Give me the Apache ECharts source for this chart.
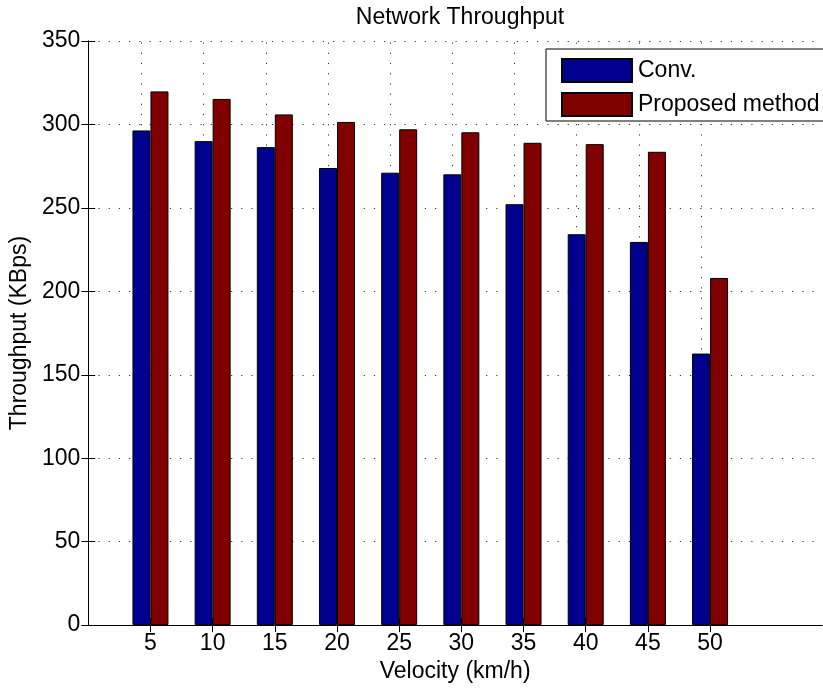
<!DOCTYPE html>
<html>
<head>
<meta charset="utf-8">
<script src="https://cdn.jsdelivr.net/npm/echarts@6/dist/echarts.min.js"></script>
<style>html,body{margin:0;padding:0;background:#fff}#c{width:823px;height:688px}</style>
</head>
<body>
<div id="c"></div>
<script>
var velocities = [5, 10, 15, 20, 25, 30, 35, 40, 45, 50];
var convValues = [296.4, 290, 286.4, 273.9, 271.1, 270.1, 252.2, 234.2, 229.6, 162.7];
var proposedValues = [319.8, 315.3, 306, 301.5, 297.1, 295.3, 289, 288.2, 283.6, 208];
var yTicks = [0, 50, 100, 150, 200, 250, 300, 350];

var FONT = "'Liberation Sans', Arial, Helvetica, sans-serif";
var FS = 23;
var dotted = { color: '#333', width: 1, type: [1.2, 9] };

function pairs(vals) { return velocities.map(function (v, i) { return [v, vals[i]]; }); }

var chart = echarts.init(document.getElementById('c'), null, { renderer: 'canvas' });
var xCommon = {
  type: 'value', min: 0, max: 59, interval: 5,
  axisLine: { show: true, lineStyle: { color: '#000', width: 1 } },
  axisTick: { show: true, inside: true, length: 7, lineStyle: { color: '#000' }, customValues: velocities },
  splitLine: { show: false }
};
chart.setOption({
  animation: false,
  textStyle: { fontFamily: FONT, color: '#000' },
  title: {
    text: 'Network Throughput', left: 455, textAlign: 'center', top: 1,
    textStyle: { fontFamily: FONT, fontSize: FS, fontWeight: 'normal', color: '#000' }
  },
  legend: {
    left: 546, top: 49, orient: 'vertical',
    itemWidth: 70, itemHeight: 23, itemGap: 9,
    padding: [9, 5, 4, 15],
    borderColor: '#000', borderWidth: 1, backgroundColor: '#fff',
    icon: 'rect',
    textStyle: { fontFamily: FONT, fontSize: FS, color: '#000', padding: [0, 0, 0, 1] },
    data: ['Conv.', 'Proposed method']
  },
  grid: { left: 88, right: 1, top: 41, bottom: 60.5, containLabel: false },
  xAxis: [
    Object.assign({}, xCommon, {
      position: 'bottom',
      name: 'Velocity (km/h)', nameLocation: 'middle', nameGap: 34,
      nameTextStyle: { fontFamily: FONT, fontSize: FS, color: '#000' },
      axisLabel: {
        show: true, fontFamily: FONT, fontSize: FS, color: '#000', margin: 7,
        customValues: velocities,
        formatter: function (v) { return velocities.indexOf(v) >= 0 ? String(v) : ''; }
      }
    }),
    Object.assign({}, xCommon, { position: 'top', axisLabel: { show: false } })
  ],
  yAxis: [
    {
      type: 'value', min: 0, max: 350, interval: 50, position: 'left',
      name: 'Throughput (KBps)', nameLocation: 'middle', nameGap: 56,
      nameTextStyle: { fontFamily: FONT, fontSize: FS, color: '#000' },
      axisLine: { show: true, lineStyle: { color: '#000', width: 1 } },
      axisTick: { show: true, inside: true, length: 7, lineStyle: { color: '#000' } },
      axisLabel: { fontFamily: FONT, fontSize: FS, color: '#000', margin: 8 },
      splitLine: { show: true, lineStyle: dotted }
    },
    {
      type: 'value', min: 0, max: 350, interval: 50, position: 'right',
      axisLine: { show: true, lineStyle: { color: '#000', width: 1 } },
      axisTick: { show: true, inside: true, length: 7, lineStyle: { color: '#000' } },
      axisLabel: { show: false },
      splitLine: { show: false }
    }
  ],
  series: [
    {
      name: 'Conv.', type: 'bar', xAxisIndex: 0, yAxisIndex: 0,
      barWidth: 18, barGap: '0%',
      itemStyle: { color: '#00008F', borderColor: '#000', borderWidth: 1 },
      data: pairs(convValues),
      markLine: {
        silent: true, symbol: 'none', label: { show: false }, z: 0,
        lineStyle: dotted,
        data: velocities.map(function (v) { return { xAxis: v }; })
      },
      z: 3
    },
    {
      name: 'Proposed method', type: 'bar', xAxisIndex: 0, yAxisIndex: 0,
      barWidth: 18, barGap: '0%',
      itemStyle: { color: '#800000', borderColor: '#000', borderWidth: 1 },
      data: pairs(proposedValues),
      z: 3
    }
  ]
});
</script>
</body>
</html>
